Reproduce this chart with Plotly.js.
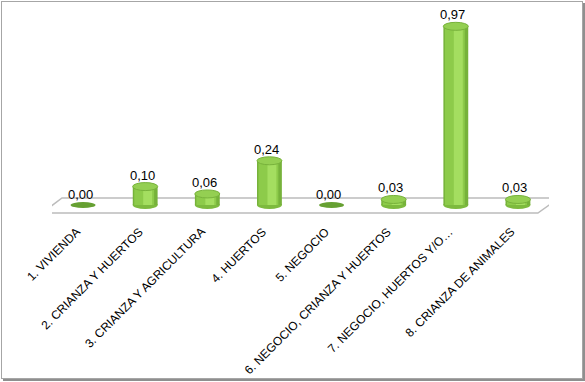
<!DOCTYPE html>
<html>
<head>
<meta charset="utf-8">
<script src="https://cdn.plot.ly/plotly-3.0.1.min.js"></script>
<style>
  html, body { margin: 0; padding: 0; background: #ffffff; }
  #wrap { position: relative; width: 585px; height: 382px; }
  #chart { width: 585px; height: 382px; }
  #frame { position: absolute; left: 1px; top: 1px; width: 580px; height: 376px;
           border: 1px solid #a6a6a6; box-shadow: 2px 2px 0 #8f8f8f; pointer-events: none; }
</style>
</head>
<body>
<div id="wrap"><div id="chart"></div><div id="frame"></div></div>
<script>
// ---- data ----
const categories = [
  "1. VIVIENDA",
  "2. CRIANZA Y HUERTOS",
  "3. CRIANZA Y AGRICULTURA",
  "4. HUERTOS",
  "5. NEGOCIO",
  "6. NEGOCIO, CRIANZA Y HUERTOS",
  "7. NEGOCIO, HUERTOS Y/O…",
  "8. CRIANZA DE ANIMALES"
];
const values = [0.00, 0.10, 0.06, 0.24, 0.00, 0.03, 0.97, 0.03];
const valueLabels = ["0,00", "0,10", "0,06", "0,24", "0,00", "0,03", "0,97", "0,03"];

// ---- drawing ----
const idx = categories.map((c, i) => i);
const W = 0.40; // cylinder width in category units

function barLayer(width, offset, color) {
  return {
    type: 'bar', x: idx, y: values, width: width, offset: offset,
    marker: { color: color, line: { width: 0 } },
    hoverinfo: 'skip', showlegend: false
  };
}

const traces = [
  barLayer(W, -W / 2, '#76B23A'),
  barLayer(W * 0.80, -W / 2 + W * 0.06, '#8DCB4A'),
  barLayer(W * 0.36, -W / 2 + W * 0.42, '#A4DE60')
];

const shapes = [];
// floor (decoration)
shapes.push({
  type: 'path', xref: 'x', yref: 'y', layer: 'below',
  path: 'M -0.661,-0.0434 L -0.339,0.038 L 7.659,0.038 L 7.321,-0.0434 Z',
  fillcolor: '#ffffff', line: { color: '#bcbcbc', width: 1.5 }
});
// cylinder bottoms and tops
values.forEach((v, i) => {
  if (v > 0) {
    shapes.push({
      type: 'circle', xref: 'x', yref: 'y', layer: 'below',
      xsizemode: 'pixel', ysizemode: 'pixel', xanchor: i, yanchor: 0,
      x0: -12.5, x1: 12.5, y0: -4, y1: 4,
      fillcolor: '#7DBA3E', line: { width: 0 }
    });
    shapes.push({
      type: 'circle', xref: 'x', yref: 'y', layer: 'above',
      xsizemode: 'pixel', ysizemode: 'pixel', xanchor: i, yanchor: v,
      x0: -12.5, x1: 12.5, y0: -4, y1: 4,
      fillcolor: '#94CF52', line: { color: '#78B23C', width: 1 }
    });
  } else {
    shapes.push({
      type: 'circle', xref: 'x', yref: 'y', layer: 'above',
      xsizemode: 'pixel', ysizemode: 'pixel', xanchor: i, yanchor: v,
      x0: -12.5, x1: 12.5, y0: -3, y1: 3,
      fillcolor: '#66A032', line: { width: 0 }
    });
  }
});

const annotations = [];
values.forEach((v, i) => {
  annotations.push({
    x: i, y: v, xref: 'x', yref: 'y', text: valueLabels[i], showarrow: false,
    xanchor: 'center', yanchor: 'bottom', xshift: -3, yshift: v > 0 ? 2 : 1,
    font: { family: 'Liberation Sans, Arial, sans-serif', size: 13, color: '#000000' }
  });
});
categories.forEach((c, i) => {
  annotations.push({
    x: i, y: 0, xref: 'x', yref: 'paper', text: c, showarrow: false,
    textangle: -45, xanchor: 'right', yanchor: 'top', xshift: 3, yshift: -6,
    font: { family: 'Liberation Sans, Arial, sans-serif', size: 12, color: '#000000' }
  });
});

const layout = {
  width: 585, height: 382,
  margin: { l: 52, r: 36, t: 8, b: 166 },
  paper_bgcolor: '#ffffff', plot_bgcolor: 'rgba(0,0,0,0)',
  barmode: 'overlay', separators: ',.',
  showlegend: false,
  xaxis: { range: [-0.5, 7.5], showgrid: false, zeroline: false, showticklabels: false,
           ticks: '', showline: false, fixedrange: true },
  yaxis: { range: [-0.0597, 1.0695], showgrid: false, zeroline: false, showticklabels: false,
           ticks: '', showline: false, fixedrange: true },
  shapes: shapes, annotations: annotations
};

Plotly.newPlot('chart', traces, layout, { staticPlot: true, displayModeBar: false });
</script>
</body>
</html>
